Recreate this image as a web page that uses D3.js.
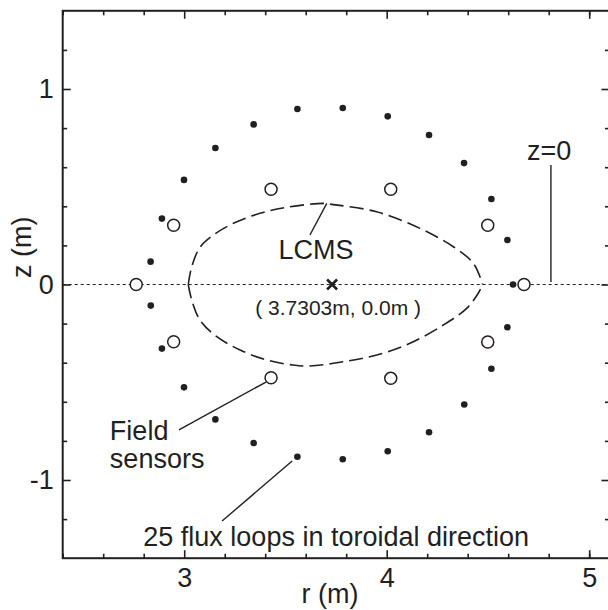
<!DOCTYPE html>
<html>
<head>
<meta charset="utf-8">
<script src="https://cdn.jsdelivr.net/npm/d3@7"></script>
<style>
  body { margin: 0; background: #fff; }
  svg { display: block; font-family: 'Liberation Sans', Arial, sans-serif; }
  .axis text { font-size: 27px; fill: #231f20; }
  .axis line { stroke: #231f20; stroke-width: 1.6; }
  .axis path { display: none; }
</style>
</head>
<body>
<div id="chart"></div>
<script>
// flux loops (filled dots), r and z in metres
const fluxR = [2.834, 2.890, 2.999, 3.154, 3.343, 3.559, 3.783, 4.005, 4.209, 4.382, 4.517, 4.596, 4.624,
  4.596, 4.517, 4.383, 4.209, 4.005, 3.783, 3.559, 3.343, 3.154, 2.999, 2.890, 2.835];
const fluxZ = [0.117, 0.337, 0.535, 0.698, 0.819, 0.898, 0.903, 0.860, 0.765, 0.621, 0.437, 0.228, 0.0,
  -0.219, -0.431, -0.614, -0.756, -0.853, -0.894, -0.881, -0.811, -0.690, -0.526, -0.328, -0.108];

// field sensors (open circles)
const sensorR = [2.763, 2.948, 3.429, 4.020, 4.499, 4.678, 4.499, 4.020, 3.429, 2.948];
const sensorZ = [0.0, 0.303, 0.487, 0.487, 0.303, 0.0, -0.294, -0.480, -0.477, -0.293];

// last closed magnetic surface, upper and lower halves
const lcmsUpper = [[3.02, 0.0], [3.037, 0.09], [3.078, 0.19], [3.144, 0.253], [3.243, 0.313], [3.374, 0.364],
  [3.506, 0.395], [3.687, 0.415], [3.728, 0.41], [3.95, 0.372], [4.164, 0.287], [4.329, 0.193],
  [4.428, 0.108], [4.474, 0.0]];
const lcmsLower = [[3.02, 0.0], [3.037, -0.079], [3.078, -0.182], [3.161, -0.267], [3.276, -0.335],
  [3.407, -0.386], [3.538, -0.412], [3.621, -0.417], [3.786, -0.395], [3.951, -0.361], [4.115, -0.301],
  [4.28, -0.207], [4.395, -0.122], [4.452, -0.045], [4.474, 0.0]];

const axisCenter = [3.7303, 0.0];

const xMajor = [3, 4, 5];
const xMinor = [2.4, 2.6, 2.8, 3.2, 3.4, 3.6, 3.8, 4.2, 4.4, 4.6, 4.8, 5.0];
const yMajor = [-1, 0, 1];
const yMinor = [-1.2, -0.8, -0.6, -0.4, -0.2, 0.2, 0.4, 0.6, 0.8, 1.2];

const ink = '#231f20';
const margin = { top: 10.8, left: 62.7 };
const width = 2.7 * 202.5;
const height = 2.8 * 195.5;

const svg = d3.select('#chart').append('svg')
  .attr('width', 608)
  .attr('height', 610);

const chart = svg.append('g')
  .attr('transform', 'translate(' + margin.left + ',' + margin.top + ')');

const xScale = d3.scaleLinear().domain([2.4, 5.1]).range([0, width]);
const yScale = d3.scaleLinear().domain([-1.4, 1.4]).range([height, 0]);

// z = 0 reference line
chart.append('line')
  .attr('x1', 0).attr('x2', width)
  .attr('y1', yScale(0)).attr('y2', yScale(0))
  .attr('stroke', ink)
  .attr('stroke-width', 1)
  .attr('stroke-dasharray', '3,3');

// axes, ticks pointing inward on all sides
const addAxis = (axisFn, scale, values, size, labels, transform) => {
  const ax = axisFn(scale).tickValues(values).tickSizeInner(-size).tickSizeOuter(0);
  if (!labels) ax.tickFormat('');
  else ax.tickFormat(d3.format('d')).tickPadding(labels);
  chart.append('g')
    .attr('class', 'axis')
    .attr('transform', transform)
    .call(ax);
};
addAxis(d3.axisBottom, xScale, xMajor, 8, 10, 'translate(0,' + height + ')');
addAxis(d3.axisBottom, xScale, xMinor, 4.5, 0, 'translate(0,' + height + ')');
addAxis(d3.axisTop, xScale, xMajor, 8, 0, 'translate(0,0)');
addAxis(d3.axisTop, xScale, xMinor, 4.5, 0, 'translate(0,0)');
addAxis(d3.axisLeft, yScale, yMajor, 8, 9, 'translate(0,0)');
addAxis(d3.axisLeft, yScale, yMinor, 4.5, 0, 'translate(0,0)');
addAxis(d3.axisRight, yScale, yMajor, 8, 0, 'translate(' + width + ',0)');
addAxis(d3.axisRight, yScale, yMinor, 4.5, 0, 'translate(' + width + ',0)');

chart.selectAll('.axis text').text(function() {
  return d3.select(this).text().replace('−', '-');
});

// frame
chart.append('rect')
  .attr('width', width)
  .attr('height', height)
  .attr('fill', 'none')
  .attr('stroke', ink)
  .attr('stroke-width', 2);

// axis titles
svg.append('text')
  .attr('x', margin.left + xScale(3.72))
  .attr('y', 603)
  .attr('text-anchor', 'middle')
  .attr('font-size', 27)
  .attr('fill', ink)
  .text('r (m)');
svg.append('text')
  .attr('transform', 'translate(31,' + (margin.top + yScale(0.19)) + ') rotate(-90)')
  .attr('text-anchor', 'middle')
  .attr('font-size', 27)
  .attr('fill', ink)
  .text('z (m)');

// LCMS
const plotLine = d3.line()
  .x(d => xScale(d[0]))
  .y(d => yScale(d[1]))
  .curve(d3.curveCatmullRom);
[lcmsUpper, lcmsLower].forEach(pts => {
  chart.append('path')
    .datum(pts)
    .attr('d', plotLine)
    .attr('fill', 'none')
    .attr('stroke', ink)
    .attr('stroke-width', 1.6)
    .attr('stroke-dasharray', '14,6');
});

// flux loops
chart.selectAll('.flux')
  .data(d3.range(fluxR.length))
  .enter().append('circle')
  .attr('class', 'flux')
  .attr('cx', i => xScale(fluxR[i]))
  .attr('cy', i => yScale(fluxZ[i]))
  .attr('r', 3.3)
  .attr('fill', ink);

// field sensors
chart.selectAll('.sensor')
  .data(d3.range(sensorR.length))
  .enter().append('circle')
  .attr('class', 'sensor')
  .attr('cx', i => xScale(sensorR[i]))
  .attr('cy', i => yScale(sensorZ[i]))
  .attr('r', 6)
  .attr('fill', '#fff')
  .attr('stroke', ink)
  .attr('stroke-width', 1.5);

// centre marker
const cx = xScale(axisCenter[0]);
const cy = yScale(axisCenter[1]);
chart.append('path')
  .attr('d', 'M' + (cx - 5) + ',' + (cy - 5) + 'L' + (cx + 5) + ',' + (cy + 5) +
    'M' + (cx - 5) + ',' + (cy + 5) + 'L' + (cx + 5) + ',' + (cy - 5))
  .attr('stroke', ink)
  .attr('stroke-width', 2.6);

// leader lines
const leaders = [
  [[4.811, 0.611], [4.811, 0.013]],
  [[3.704, 0.415], [3.621, 0.253]],
  [[2.974, -0.744], [3.404, -0.499]],
  [[3.187, -1.210], [3.533, -0.903]]
];
leaders.forEach(l => {
  chart.append('line')
    .attr('x1', xScale(l[0][0])).attr('y1', yScale(l[0][1]))
    .attr('x2', xScale(l[1][0])).attr('y2', yScale(l[1][1]))
    .attr('stroke', ink)
    .attr('stroke-width', 1.4);
});

// annotation texts
const addText = (r, z, txt, size, anchor) => {
  chart.append('text')
    .attr('x', xScale(r))
    .attr('y', yScale(z))
    .attr('text-anchor', anchor)
    .attr('font-size', size)
    .attr('fill', ink)
    .text(txt);
};
addText(4.802, 0.637, 'z=0', 27, 'middle');
addText(3.651, 0.131, 'LCMS', 27, 'middle');
addText(3.760, -0.156, '( 3.7303m, 0.0m )', 21, 'middle');
addText(2.633, -0.795, 'Field', 27, 'start');
addText(2.633, -0.939, 'sensors', 27, 'start');
addText(2.798, -1.336, '25 flux loops in toroidal direction', 27, 'start');
</script>
</body>
</html>
